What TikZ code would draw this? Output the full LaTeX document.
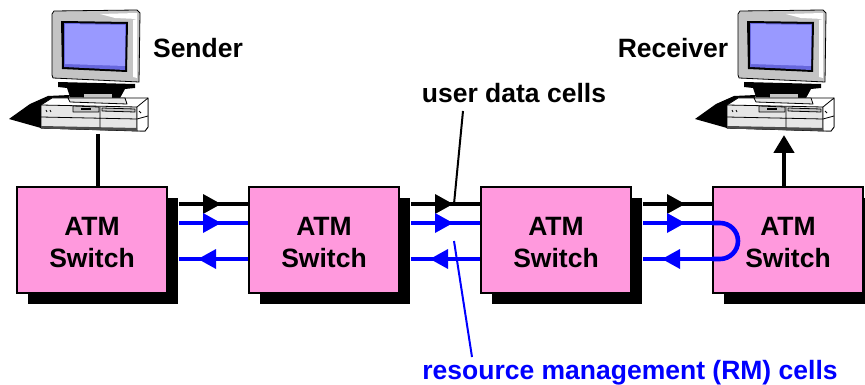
\documentclass[tikz,border=0pt]{standalone}
\usepackage{fontspec}
\setmainfont{Liberation Sans}
\usetikzlibrary{shadows,decorations.markings,arrows.meta}
\definecolor{swpink}{HTML}{FF99DD}
\definecolor{pureblue}{HTML}{0000FF}
\definecolor{scrn}{HTML}{9999FF}
\definecolor{scrnd}{HTML}{6666DD}
\definecolor{beige}{HTML}{C4C4C4}
\definecolor{bodyg}{HTML}{E6E6E6}
\tikzset{
  lbl/.style={font=\fontsize{26.5}{32}\selectfont\bfseries,inner sep=0pt,text depth=0pt},
  switchbox/.style={draw=black,line width=2pt,fill=swpink,minimum width=150pt,minimum height=106pt,inner sep=0pt,
    align=center,font=\fontsize{26.5}{32}\selectfont\bfseries,
    drop shadow={shadow xshift=11pt,shadow yshift=-11pt,fill=black,opacity=1}},
  thickline/.style={line width=4.6pt,line cap=butt},
  fwd/.style={postaction={decorate,decoration={markings,mark=at position #1 with {\fill (0pt,-10pt) -- (18pt,0pt) -- (0pt,10pt) -- cycle;}}}},
  rev/.style={postaction={decorate,decoration={markings,mark=at position #1 with {\fill (18pt,-10pt) -- (0pt,0pt) -- (18pt,10pt) -- cycle;}}}},
  leader/.style={line width=2pt},
  pc/.style={draw=black,line width=0.8pt,line join=round},
}
\newcommand{\computerart}{%
  % black wedge behind the case
  \fill[black] (9,119) -- (30,104) -- (48,96) -- (70,95) -- (60,128) -- (41,128) -- cycle;
  % case
  \fill[pc,fill=white] (41,105) -- (52,98) -- (148,98) -- (148,127) -- (145,131) -- (41,128) -- cycle;
  \fill[pc,fill=bodyg] (41,105) -- (137,107) -- (137,131) -- (41,128) -- cycle;
  \fill[pc,fill=white] (137,107) -- (148,98) -- (148,127) -- (145,131) -- (137,131) -- cycle;
  \draw[pc] (41,117) -- (137,119) (100,107) -- (100,129) (137,119) -- (148,116);
  \draw[pc,fill=beige] (73,106) -- (99,107) -- (99,112) -- (73,112) -- cycle;
  \fill[black] (81,108) rectangle (91,110);
  \draw[pc,fill=beige] (102,108) -- (135,109) -- (135,112) -- (102,111) -- cycle;
  \draw[pc] (46,110) -- (47,112) (50,110) -- (51,112) (139,111) -- (141,113);
  \fill[black!70] (41,126) -- (137,128) -- (137,131) -- (41,128.5) -- cycle;
  % monitor stand
  \fill[black] (58,82) -- (135,84) -- (135,88) -- (125,89) -- (120,98) -- (70,97) -- (67,88) -- (58,87) -- cycle;
  \fill[beige] (84,94) -- (112,94) -- (112,98) -- (84,98) -- cycle;
  \fill[pc,fill=bodyg] (68,98) -- (125,98) -- (127,104) -- (70,102) -- cycle;
  % monitor
  \fill[pc,fill=beige] (54,11) -- (137,10) -- (140,13) -- (139,82) -- (53,78) -- (52,75) -- (52,14) -- cycle;
  \fill[white] (100,14) -- (137,13) -- (137,19) -- (115,18) -- cycle;
  \fill[white] (133,20) -- (137,19) -- (137,78) -- (133,77) -- cycle;
  \fill[black] (61,21) -- (128,22) -- (127,72) -- (62,69) -- cycle;
  \fill[scrnd] (64,23) -- (126,24) -- (125,70) -- (64,67) -- cycle;
  \fill[scrn] (65,24) -- (125,25) -- (125,66) -- (65,64) -- cycle;
}
\begin{document}
\begin{tikzpicture}[x=1pt,y=-1pt]
\useasboundingbox (0,0) rectangle (865,385);
% switches
\node[switchbox] (sw1) at (92,240) {\rule{0pt}{24pt}ATM\\Switch};
\node[switchbox] (sw2) at (324,240) {\rule{0pt}{24pt}ATM\\Switch};
\node[switchbox] (sw3) at (556,240) {\rule{0pt}{24pt}ATM\\Switch};
\node[switchbox] (sw4) at (788,240) {\rule{0pt}{24pt}ATM\\Switch};
% rows of links
\foreach \a/\b/\n in {sw1/sw2/1,sw2/sw3/2,sw3/sw4/3}{
  \coordinate (a\n) at ([xshift=11pt]\a.east |- 0,204);
  \coordinate (b\n) at (\b.west |- 0,204);
  \coordinate (c\n) at ([xshift=11pt]\a.east |- 0,223);
  \coordinate (d\n) at (\b.west |- 0,223);
  \coordinate (e\n) at ([xshift=11pt]\a.east |- 0,259);
  \coordinate (f\n) at (\b.west |- 0,259);
  \draw[thickline,black,fwd=24pt] (a\n) -- (b\n);
  \draw[thickline,pureblue,fwd=24pt] (c\n) -- (d\n);
  \draw[thickline,pureblue,rev=19pt] (e\n) -- (f\n);
}
% loop in the last switch
\draw[thickline,pureblue] (d3) -- ++(8,0) arc[start angle=90,end angle=-90,radius=18pt] -- (f3);
% computers
\computerart
\begin{scope}[shift={(686,0)}]\computerart\end{scope}
\coordinate (senderport) at (98,134);
\coordinate (receiverport) at (784,135);
\draw[thickline] (senderport) -- (senderport |- sw1.north);
\draw[line width=4.6pt,-{Triangle[length=18pt,width=20pt]}] (receiverport |- sw4.north) -- (receiverport);
% labels
\node[lbl,anchor=base] (sender) at (198,58) {Sender};
\node[lbl,anchor=base] (receiver) at (673,58) {Receiver};
\node[lbl,anchor=base] (udc) at (514,103) {user data cells};
\node[lbl,anchor=base,text=pureblue] (rm) at (630,379) {resource management (RM) cells};
% leaders
\coordinate (udhead) at (454,204);
\coordinate (udtail) at (463,111);
\coordinate (rmhead) at (454,241);
\coordinate (rmtail) at (472,357);
\draw[leader,black] (udtail) -- (udhead);
\draw[leader,pureblue] (rmtail) -- (rmhead);
\end{tikzpicture}
\end{document}
